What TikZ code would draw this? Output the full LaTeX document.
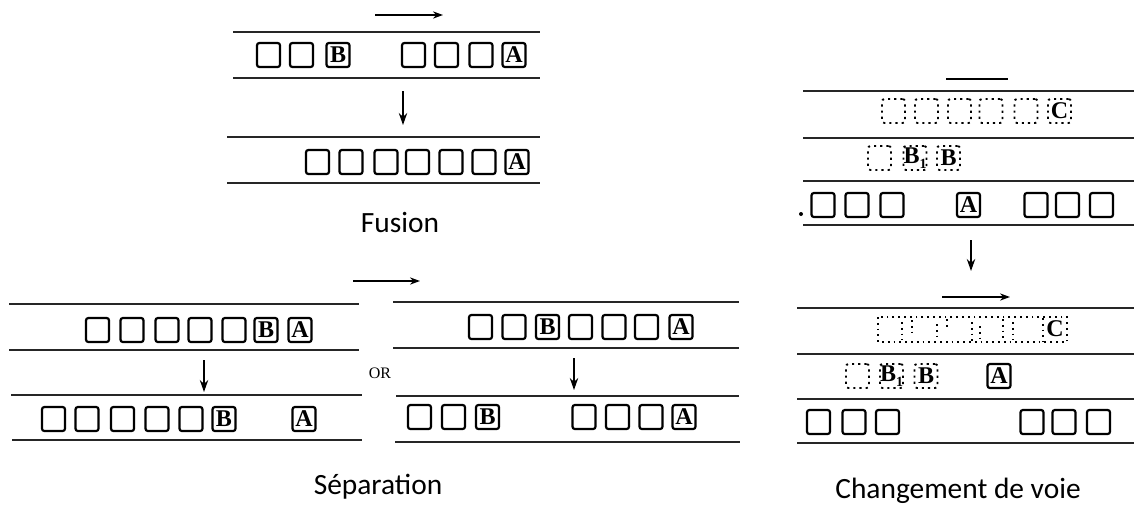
\documentclass[tikz,border=0pt]{standalone}
\usepackage{fontspec}
\setmainfont{Carlito}
\newfontfamily\orfont{Liberation Serif}
\newfontfamily\platefont{Liberation Serif}
\usetikzlibrary{arrows.meta}

\begin{document}
\begin{tikzpicture}[x=0.5pt,y=-0.5pt,
  road/.style={line width=1pt, black!85},
  plate/.style={font=\platefont\bfseries\fontsize{12}{12}\selectfont},
  car/.style={draw, line width=1.1pt, rounded corners=1.2pt, minimum width=11.5pt,
    minimum height=12pt, inner sep=0pt, plate},
  dcar/.style={car, dotted, line width=0.9pt},
  ghost/.style={dotted, line width=0.9pt},
  flow/.style={-{Stealth[length=5pt,width=3.6pt]}, line width=0.7pt},
  drop/.style={-{Stealth[length=6pt,width=4.2pt]}, line width=0.8pt},
  caption/.style={font=\fontsize{14.7}{16}\selectfont}
]
\useasboundingbox (0,0) rectangle (1134,504);

% ---------------- Fusion ----------------
\coordinate (fr1) at (375,15);  \coordinate (fr2) at (443,15);
\draw[flow] (fr1) -- (fr2);
\draw[road] (233,32) -- (540,32);
\draw[road] (233,78) -- (540,78);
\foreach \x in {268.5,301.5,413.5,446.5,481} \node[car] at (\x,55) {};
\node[car] (fB) at (338,55) {B};
\node[car] (fA) at (514,55) {A};
\coordinate (fd1) at (403,91); \coordinate (fd2) at (403,125);
\draw[drop] (fd1) -- (fd2);
\draw[road] (227,137) -- (540,137);
\draw[road] (227,183) -- (540,183);
\foreach \x in {317.5,351,386,417.5,451,484} \node[car] at (\x,162) {};
\node[car] (fA2) at (517,162) {A};
\node[caption] (fusion) at (400,222) {Fusion};

% ---------------- Séparation ----------------
\coordinate (sr1) at (353,281); \coordinate (sr2) at (420,281);
\draw[flow] (sr1) -- (sr2);
% left case
\draw[road] (9,304) -- (359,304);
\draw[road] (9,350) -- (359,350);
\foreach \x in {97.5,132,167,200,234} \node[car] at (\x,330) {};
\node[car] (sB) at (266,330) {B};
\node[car] (sA) at (300,330) {A};
\coordinate (sd1) at (204,360); \coordinate (sd2) at (204,392);
\draw[drop] (sd1) -- (sd2);
\draw[road] (11,395) -- (362,395);
\draw[road] (12,440) -- (362,440);
\foreach \x in {53.5,87,122.5,157,191} \node[car] at (\x,419) {};
\node[car] (sB2) at (224,419) {B};
\node[car] (sA2) at (304,419) {A};
% "OR"
\node[font=\orfont\fontsize{8}{8}\selectfont] (or) at (380,373) {OR};
% right case
\draw[road] (393,302) -- (739,302);
\draw[road] (393,348) -- (739,348);
\foreach \x in {480.5,514,580.5,614,646.5} \node[car] at (\x,327) {};
\node[car] (tB) at (547.5,327) {B};
\node[car] (tA) at (681,327) {A};
\coordinate (td1) at (574,358); \coordinate (td2) at (574,390);
\draw[drop] (td1) -- (td2);
\draw[road] (396,396) -- (739,396);
\draw[road] (395,442) -- (740,442);
\foreach \x in {419.5,453.5,584,617.5,651} \node[car] at (\x,417) {};
\node[car] (tB2) at (487.5,417) {B};
\node[car] (tA2) at (684,417) {A};
\node[caption] (separation) at (378,487) {Séparation};

% ---------------- Changement de voie ----------------
\draw[line width=0.9pt] (946,79) -- (1008,79);
\foreach \y in {91,138,181,225} \draw[road] (803,\y) -- (1134,\y);
\foreach \x in {893.5,926.5,959.5,991,1026} \node[dcar] at (\x,111) {};
\node[dcar] (cC) at (1059.5,111) {C};
\node[dcar] at (879.5,158) {};
\node[dcar] (cB1) at (915,158) {B\raisebox{-0.45ex}{\fontsize{7}{7}\selectfont 1}};
\node[dcar] (cB) at (948.5,158) {B};
\foreach \x in {823,857,892,1036,1067.5,1101.5} \node[car] at (\x,205) {};
\node[car] (cA) at (968.5,205) {A};
\fill (801,214) circle (1pt);
\coordinate (cd1) at (971,240); \coordinate (cd2) at (971,271);
\draw[drop] (cd1) -- (cd2);
\coordinate (cr1) at (942,297); \coordinate (cr2) at (1010,297);
\draw[flow] (cr1) -- (cr2);
\foreach \y in {308,354,399,443} \draw[road] (797,\y) -- (1134,\y);
% vehicles squeezed together in the upper lane
\draw[ghost] (878,317) rectangle (1067,342);
\foreach \x/\a/\b in {902/322/340, 912/320/334, 937/324/338, 947/319/330,
                      972/322/341, 980/326/342, 1003/319/340, 1013/322/340,
                      1043/318/342}
  \draw[ghost] (\x,\a) -- (\x,\b);
\node[plate] (cC2) at (1055,329) {C};
\node[dcar] at (857.5,376) {};
\node[dcar] (cB12) at (891.5,376) {B\raisebox{-0.45ex}{\fontsize{7}{7}\selectfont 1}};
\node[dcar] (cB2) at (926,376) {B};
\node[car] (cA2) at (999,376) {A};
\foreach \x in {818.5,854,887.5,1032,1064,1098.5} \node[car] at (\x,422) {};
\node[caption] (lane) at (958,491) {Changement de voie};
\end{tikzpicture}
\end{document}
